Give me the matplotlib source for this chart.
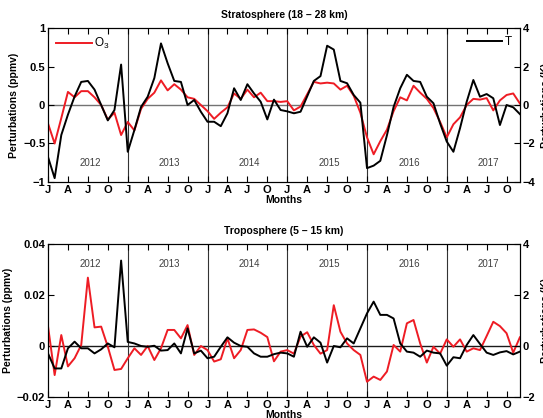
import numpy as np
import matplotlib
matplotlib.use('Agg')
import matplotlib.pyplot as plt

plt.rcParams['font.family'] = ['Liberation Sans', 'DejaVu Sans']

# months since Jan 2012
months = np.arange(72)
years = ['2012', '2013', '2014', '2015', '2016', '2017']
month_letters = ['J', 'A', 'J', 'O']

# Stratosphere (18 - 28 km)
strat_o3 = [-0.24, -0.50, -0.17, 0.17, 0.10, 0.18, 0.18, 0.10, 0.00, -0.19, -0.10, -0.39,
            -0.22, -0.33, -0.05, 0.08, 0.16, 0.32, 0.19, 0.27, 0.20, 0.10, 0.08, 0.00,
            -0.08, -0.18, -0.10, -0.03, 0.15, 0.08, 0.20, 0.10, 0.16, 0.05, 0.05, 0.04,
            0.05, -0.07, -0.02, 0.14, 0.30, 0.28, 0.29, 0.28, 0.20, 0.25, 0.12, -0.10,
            -0.42, -0.64, -0.47, -0.32, -0.08, 0.10, 0.06, 0.25, 0.16, 0.08, -0.04, -0.22,
            -0.42, -0.25, -0.16, 0.00, 0.08, 0.07, 0.09, -0.07, 0.06, 0.13, 0.15, 0.02]
strat_t = [-2.70, -3.80, -1.56, -0.50, 0.44, 1.20, 1.25, 0.80, 0.00, -0.80, -0.26, 2.10,
           -2.43, -1.30, -0.10, 0.43, 1.40, 3.20, 2.17, 1.25, 1.20, 0.00, 0.26, -0.35,
           -0.87, -0.87, -1.10, -0.43, 0.87, 0.26, 1.08, 0.60, 0.17, -0.75, 0.28, -0.26,
           -0.33, -0.43, -0.35, 0.45, 1.25, 1.50, 3.08, 2.88, 1.25, 1.13, 0.52, 0.12,
           -3.28, -3.15, -2.90, -1.57, -0.10, 0.87, 1.57, 1.25, 1.20, 0.43, 0.09, -0.96,
           -1.90, -2.43, -1.20, 0.17, 1.30, 0.43, 0.57, 0.35, -1.04, 0.00, -0.12, -0.47]

# Troposphere (5 - 15 km)
trop_o3 = [0.0078, -0.0114, 0.0043, -0.0080, -0.0048, 0.0004, 0.0268, 0.0073, 0.0076, -0.0003, -0.0094, -0.0090,
           -0.0048, -0.0009, -0.0035, 0.0000, -0.0055, -0.0009, 0.0063, 0.0063, 0.0030, 0.0082, -0.0035, 0.0000,
           -0.0016, -0.0061, -0.0052, 0.0030, -0.0048, -0.0016, 0.0063, 0.0065, 0.0052, 0.0035, -0.0060, -0.0022,
           -0.0016, -0.0030, 0.0037, 0.0054, 0.0004, -0.0030, -0.0016, 0.0160, 0.0056, 0.0010, -0.0016, -0.0035,
           -0.0140, -0.0120, -0.0133, -0.0100, 0.0004, -0.0022, 0.0089, 0.0102, 0.0010, -0.0065, -0.0003, -0.0030,
           0.0026, -0.0003, 0.0026, -0.0022, -0.0009, -0.0016, 0.0039, 0.0095, 0.0078, 0.0050, -0.0026, 0.0034]
trop_t = [-0.29, -0.88, -0.88, -0.09, 0.17, -0.09, -0.09, -0.29, -0.13, 0.10, -0.05, 3.35,
          0.16, 0.10, 0.00, -0.03, 0.01, -0.18, -0.16, 0.10, -0.29, 0.69, -0.29, -0.18,
          -0.48, -0.42, -0.03, 0.34, 0.13, 0.00, -0.03, -0.29, -0.42, -0.42, -0.32, -0.26,
          -0.29, -0.42, 0.56, -0.03, 0.34, 0.13, -0.65, 0.00, -0.05, 0.30, 0.10, 0.69,
          1.28, 1.74, 1.22, 1.22, 1.08, 0.10, -0.22, -0.26, -0.42, -0.18, -0.26, -0.29,
          -0.77, -0.44, -0.48, 0.04, 0.43, 0.08, -0.26, -0.35, -0.25, -0.20, -0.33, -0.22]

RED = '#ee1c24'
fig = plt.figure(figsize=(5.43, 4.18), dpi=100)


def panel(rect, o3, t, title, ylim_l, yticks_l, yticklabels_l, ylim_r, yticks_r, year_y, zero_col):
    ax = fig.add_axes(rect)
    ax.axhline(0, color=zero_col, lw=1.0, zorder=1)
    for m in range(12, 72, 12):
        ax.axvline(m, color='0.2', lw=0.8, zorder=1)
    l1, = ax.plot(months, o3, color=RED, lw=1.4, zorder=3, label='O$_\\mathregular{3}$')
    ax.set_xlim(0, 71)
    ax.set_ylim(*ylim_l)
    ax.set_yticks(yticks_l)
    ax.set_yticklabels(yticklabels_l)
    ax.set_xticks(np.arange(0, 72, 3))
    ax.set_xticklabels([month_letters[i % 4] for i in range(24)])
    ax.tick_params(direction='in', top=True, length=4, width=0.8, labelsize=8, pad=2)
    for lab in ax.get_xticklabels() + ax.get_yticklabels():
        lab.set_fontweight('bold')
    ax.set_ylabel('Perturbations (ppmv)', fontsize=7.5, fontweight='bold', labelpad=3)
    ax.set_xlabel('Months', fontsize=7.5, fontweight='bold', labelpad=0)
    ax.set_title(title, fontsize=7.5, fontweight='bold', pad=7)
    for i, yr in enumerate(years):
        ax.text(12 * i + 6.3, year_y, yr, ha='center', va='center', fontsize=7, color='0.25')

    ax2 = ax.twinx()
    l2, = ax2.plot(months, t, color='black', lw=1.4, zorder=3, label='T')
    ax2.set_ylim(*ylim_r)
    ax2.set_yticks(yticks_r)
    ax2.tick_params(direction='in', length=4, width=0.8, labelsize=8, pad=2)
    for lab in ax2.get_yticklabels():
        lab.set_fontweight('bold')
    ax2.set_ylabel('Perturbations (K)', fontsize=7.5, fontweight='bold', labelpad=4)
    return ax, ax2, l1, l2


ax, ax2, l1, l2 = panel([0.0884, 0.5646, 0.869, 0.3684], strat_o3, strat_t,
                        'Stratosphere (18 \u2013 28 km)', (-1, 1), [-1, -0.5, 0, 0.5, 1],
                        ['\u22121', '\u22120.5', '0', '0.5', '1'], (-4, 4), [-4, -2, 0, 2, 4],
                        -0.75, '0.45')
ax.legend(handles=[l1], loc='upper left', frameon=False, fontsize=8.5, handlelength=3,
          borderaxespad=0.3, handletextpad=0.2)
ax2.legend(handles=[l2], loc='upper right', frameon=False, fontsize=8.5, handlelength=3,
           borderaxespad=0.3, handletextpad=0.2)

panel([0.0884, 0.0502, 0.869, 0.3661], trop_o3, trop_t,
      'Troposphere (5 \u2013 15 km)', (-0.02, 0.04), [-0.02, 0, 0.02, 0.04],
      ['\u22120.02', '0', '0.02', '0.04'], (-2, 4), [-2, 0, 2, 4],
      0.032, '0.1')

fig.savefig('out.png', dpi=100)
